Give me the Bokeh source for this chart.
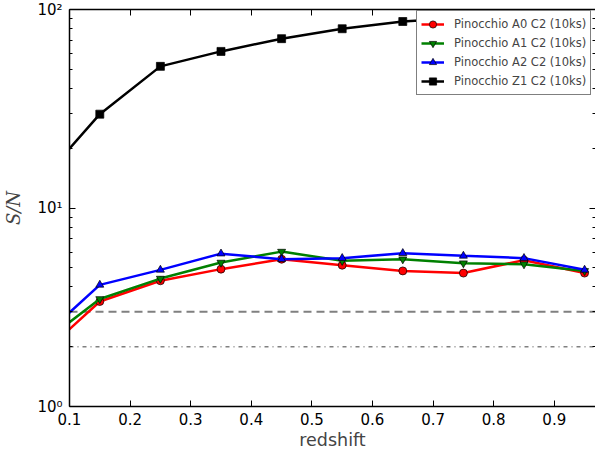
from bokeh.plotting import figure
from bokeh.models import FixedTicker, LinearAxis, LogAxis, Span, Legend, LegendItem
from bokeh.embed import file_html
from bokeh.resources import INLINE

# ---- data ----
redshift = [0.05, 0.15, 0.25, 0.35, 0.45, 0.55, 0.65, 0.75, 0.85, 0.95]
sn_a0 = [1.78, 3.38, 4.30, 4.92, 5.52, 5.15, 4.82, 4.70, 5.46, 4.70]
sn_a1 = [2.03, 3.48, 4.41, 5.31, 6.03, 5.42, 5.52, 5.27, 5.21, 4.82]
sn_a2 = [2.16, 4.10, 4.88, 5.89, 5.52, 5.59, 5.92, 5.74, 5.59, 4.88]
sn_z1 = [13.4, 29.7, 51.7, 61.5, 71.3, 80.0, 87.0, 91.0, 90.0, 69.6]
series_names = ["Pinocchio A0 C2 (10ks)", "Pinocchio A1 C2 (10ks)",
                "Pinocchio A2 C2 (10ks)", "Pinocchio Z1 C2 (10ks)"]
threshold_dashed = 3
threshold_dashdot = 2
x_ticks = [0.1, 0.2, 0.3, 0.4, 0.5, 0.6, 0.7, 0.8, 0.9]
y_major = [1, 10, 100]
y_minor = [2, 3, 4, 5, 6, 7, 8, 9, 20, 30, 40, 50, 60, 70, 80, 90]
y_labels = ["10\u2070", "10\u00b9", "10\u00b2"]

p = figure(width=595, height=453, output_backend="svg", toolbar_location=None,
           y_axis_type="log", x_range=(0.1, 0.968), y_range=(1, 100),
           min_border_left=69, min_border_right=0, min_border_top=9,
           min_border_bottom=47)
p.grid.visible = False
p.outline_line_color = None
p.background_fill_color = "white"
p.border_fill_color = "white"

FONT = "DejaVu Sans"

def style_axis(ax, labels=True):
    ax.axis_line_color = "black"
    ax.axis_line_width = 1.5
    ax.major_tick_in = 6
    ax.major_tick_out = 0
    ax.minor_tick_in = 3
    ax.minor_tick_out = 0
    ax.major_tick_line_color = "black"
    ax.minor_tick_line_color = "black"
    ax.major_label_text_font = FONT
    ax.major_label_text_color = "black"
    ax.major_label_text_font_size = "15px"
    if not labels:
        ax.major_label_standoff = 0

# x axes
xa = p.xaxis[0]
xa.ticker = FixedTicker(ticks=x_ticks, minor_ticks=[])
style_axis(xa)
xa.major_label_standoff = 6
xa.axis_label = "redshift"
xa.axis_label_text_font = FONT
xa.axis_label_text_font_size = "17.5px"
xa.axis_label_text_font_style = "normal"
xa.axis_label_standoff = 2

top = LinearAxis(ticker=FixedTicker(ticks=x_ticks, minor_ticks=[]))
style_axis(top, labels=False)
top.major_label_overrides = {v: "" for v in x_ticks}
p.add_layout(top, "above")

# y axes
ya = p.yaxis[0]
ya.ticker = FixedTicker(ticks=y_major, minor_ticks=y_minor)
ya.major_label_overrides = {v: s for v, s in zip(y_major, y_labels)}
style_axis(ya)
ya.major_label_standoff = 7
ya.axis_label = "S/N"
ya.axis_label_text_font = "DejaVu Serif"
ya.axis_label_text_font_size = "18px"
ya.axis_label_text_font_style = "italic"
ya.axis_label_standoff = 10

right = LogAxis(ticker=FixedTicker(ticks=y_major, minor_ticks=y_minor))
style_axis(right, labels=False)
right.major_label_overrides = {v: "" for v in y_major}
right.axis_line_color = None
p.add_layout(right, "right")

# threshold lines
p.add_layout(Span(location=threshold_dashed, dimension="width", line_color="gray",
                  line_dash="8 5", line_width=2, level="underlay"))
p.add_layout(Span(location=threshold_dashdot, dimension="width", line_color="gray",
                  line_dash="4 4 1 4", line_width=1.5, level="underlay"))

colors = ["red", "green", "blue", "black"]
markers = ["circle", "inverted_triangle", "triangle", "square"]
values = [sn_a0, sn_a1, sn_a2, sn_z1]
items = []
for name, col, mk, ys in zip(series_names, colors, markers, values):
    ln = p.line(redshift, ys, line_color=col, line_width=2.5)
    sc = p.scatter(redshift, ys, marker=mk, size=8, fill_color=col,
                   line_color="black", line_width=0.7)
    items.append(LegendItem(label=name, renderers=[ln, sc]))

legend = Legend(items=items, location=(347, 311), margin=0, padding=4, spacing=1,
                glyph_width=23, glyph_height=18, label_height=18, label_standoff=10,
                label_text_font=FONT, label_text_font_size="11.5px",
                border_line_color="black", border_line_width=1,
                background_fill_color="white", background_fill_alpha=1.0)
p.add_layout(legend)

open("out.html", "w").write(file_html(p, INLINE))
